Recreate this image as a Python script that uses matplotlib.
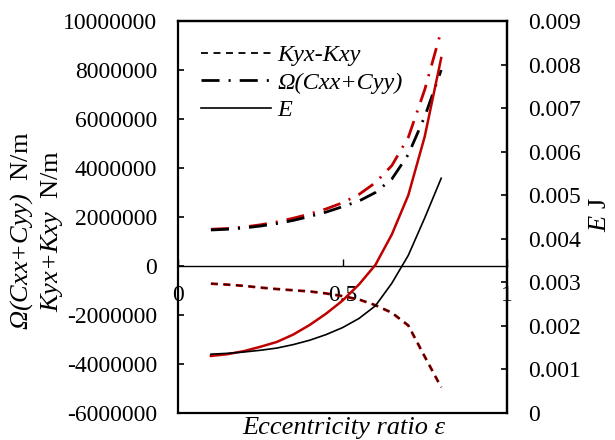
import matplotlib
matplotlib.use("Agg")
import matplotlib.pyplot as plt
from matplotlib.ticker import FuncFormatter, MultipleLocator
from matplotlib.lines import Line2D

plt.rcParams['font.family'] = ['Liberation Serif', 'DejaVu Serif']
plt.rcParams['mathtext.fontset'] = 'custom'
plt.rcParams['mathtext.rm'] = 'Liberation Serif'
plt.rcParams['mathtext.it'] = 'Liberation Serif:italic'
plt.rcParams['mathtext.sf'] = 'Liberation Serif:italic'
plt.rcParams['lines.scale_dashes'] = False

# ---- data ----
eps = [0.1, 0.15, 0.2, 0.25, 0.3, 0.35, 0.4, 0.45, 0.5, 0.55, 0.6, 0.65, 0.7, 0.75, 0.8]

K_black = [-0.72e6, -0.76e6, -0.81e6, -0.88e6, -0.94e6, -0.99e6, -1.03e6, -1.12e6,
           -1.22e6, -1.36e6, -1.60e6, -1.90e6, -2.42e6, -3.70e6, -4.95e6]
K_red = [-0.72e6, -0.76e6, -0.81e6, -0.88e6, -0.94e6, -0.99e6, -1.04e6, -1.12e6,
         -1.23e6, -1.37e6, -1.60e6, -1.91e6, -2.43e6, -3.70e6, -4.95e6]

C_black = [1.47e6, 1.50e6, 1.55e6, 1.63e6, 1.73e6, 1.86e6, 2.02e6, 2.20e6,
           2.42e6, 2.65e6, 3.00e6, 3.55e6, 4.55e6, 6.10e6, 8.00e6]
C_red = [1.50e6, 1.53e6, 1.59e6, 1.68e6, 1.80e6, 1.95e6, 2.12e6, 2.33e6,
         2.58e6, 2.92e6, 3.40e6, 4.10e6, 5.25e6, 7.20e6, 9.60e6]

E_black = [1.35e-3, 1.37e-3, 1.40e-3, 1.44e-3, 1.49e-3, 1.57e-3, 1.67e-3, 1.80e-3,
           1.96e-3, 2.17e-3, 2.46e-3, 2.98e-3, 3.62e-3, 4.48e-3, 5.39e-3]
E_red = [1.31e-3, 1.35e-3, 1.42e-3, 1.52e-3, 1.63e-3, 1.80e-3, 2.02e-3, 2.28e-3,
         2.58e-3, 2.95e-3, 3.40e-3, 4.10e-3, 5.00e-3, 6.35e-3, 8.15e-3]

legend_labels = ["Kyx-Kxy", "Ω(Cxx+Cyy)", "E"]

# ---- figure ----
W, H = 615, 440
fig = plt.figure(figsize=(W / 100, H / 100), dpi=100)
L, R, T, B = 178, 507, 21, 413
ax = fig.add_axes([L / W, 1 - B / H, (R - L) / W, (B - T) / H])
ax2 = ax.twinx()

FS = 17
FL = 19
dash = (0, (5, 4))
dashdot = (0, (13, 6.5, 1.5, 6.5))

# left axis curves
ax.plot(eps, K_red, color='#c00000', lw=2.0, linestyle=dash)
ax.plot(eps, K_black, color='#3a0000', lw=1.1, linestyle=dash)
ax.plot(eps, C_red, color='#c00000', lw=2.0, linestyle=dashdot)
ax.plot(eps, C_black, color='black', lw=2.0, linestyle=dashdot)

# right axis curves
ax2.plot(eps, E_red, color='#c00000', lw=1.8)
ax2.plot(eps, E_black, color='black', lw=1.2)

ax.set_xlim(0, 1)
ax.set_ylim(-6e6, 1e7)
ax2.set_ylim(0, 0.009)

ax.yaxis.set_major_locator(MultipleLocator(2e6))
ax.yaxis.set_major_formatter(FuncFormatter(lambda v, p: "%d" % round(v)))
ax2.yaxis.set_major_locator(MultipleLocator(0.001))
ax2.yaxis.set_major_formatter(FuncFormatter(lambda v, p: "0" if abs(v) < 1e-12 else "%.3f" % v))
ax.set_xticks([0, 0.5, 1])
ax.xaxis.set_major_formatter(FuncFormatter(lambda v, p: "%g" % v))

ax.spines['bottom'].set_position(('data', 0))
ax.spines['bottom'].set_linewidth(1.0)
for s in ['left', 'top', 'right']:
    ax.spines[s].set_linewidth(1.6)
for s in ['left', 'top', 'right', 'bottom']:
    ax2.spines[s].set_linewidth(1.6)
ax2.spines['left'].set_visible(False)

ax.tick_params(axis='y', direction='in', length=4.5, width=1.2, pad=15, labelsize=FS)
ax.tick_params(axis='x', direction='in', length=5, width=1.0, pad=14, labelsize=FS)
ax2.tick_params(axis='y', direction='in', length=4.5, width=1.2, pad=15, labelsize=FS)

# legend
handles = [Line2D([], [], color='black', lw=1.3, linestyle=dash),
           Line2D([], [], color='black', lw=2.0, linestyle=dashdot),
           Line2D([], [], color='black', lw=1.2)]
leg = ax.legend(handles, legend_labels, loc='upper left',
                bbox_to_anchor=(0.04, 0.965), frameon=False,
                prop={'family': 'Liberation Serif', 'style': 'italic', 'size': 17.5},
                handlelength=2.9, handletextpad=0.25, labelspacing=0.22,
                borderaxespad=0.0)

# axis labels
fig.text(343.5 / W, (H - 434) / H, "Eccentricity ratio ε", fontsize=FL,
         fontstyle='italic', ha='center', va='baseline')
fig.text(22 / W, 1 - 231 / H, r"$\mathsf{Ω(Cxx{+}Cyy)}$  N/m", fontsize=FL,
         rotation=90, ha='center', va='center')
fig.text(52 / W, 1 - 231 / H, r"$\mathsf{Kyx{+}Kxy}$  N/m", fontsize=FL,
         rotation=90, ha='center', va='center')
fig.text(600 / W, 1 - 215 / H, r"$\mathsf{E}$ J", fontsize=FL,
         rotation=90, ha='center', va='center')

fig.savefig("out.png", dpi=100)
